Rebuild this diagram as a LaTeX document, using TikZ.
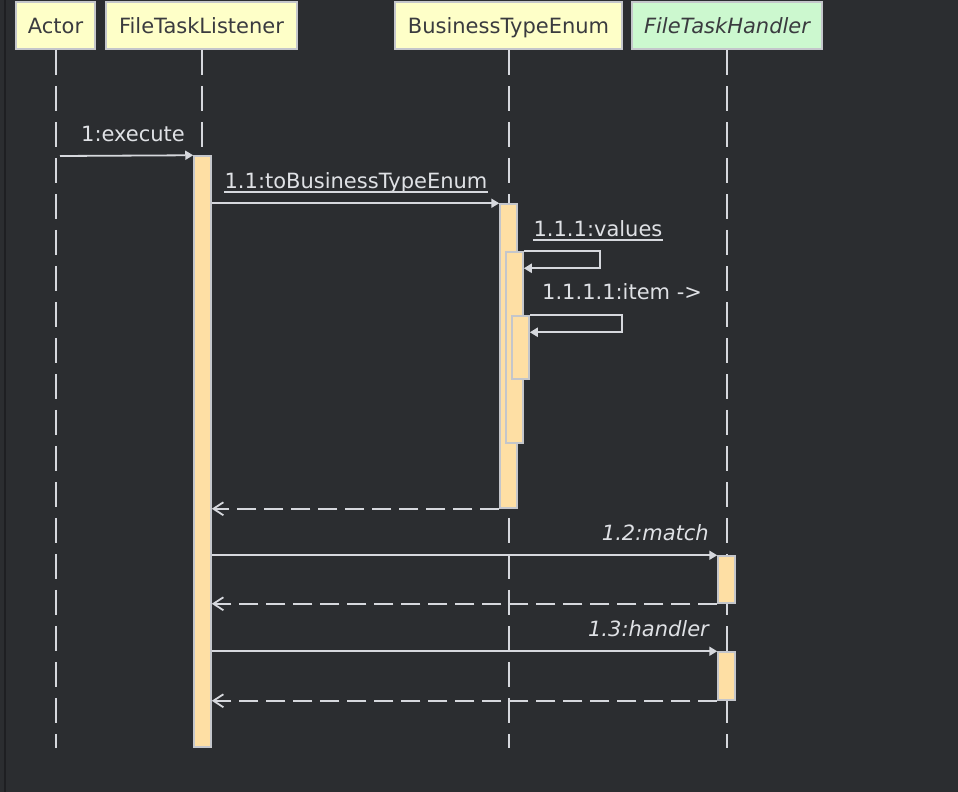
\documentclass[tikz,border=0pt]{standalone}
\usepackage{fontspec}
\setmainfont{DejaVu Sans}
\usetikzlibrary{arrows.meta, calc}

\definecolor{bgdark}{HTML}{2B2D30}
\definecolor{edgedark}{HTML}{1E1F22}
\definecolor{headyellow}{HTML}{FEFFC8}
\definecolor{headgreen}{HTML}{CCF8CF}
\definecolor{headborder}{HTML}{C4C6CB}
\definecolor{headtext}{HTML}{3A3B3F}
\definecolor{linegray}{HTML}{D6D8DD}
\definecolor{msgtext}{HTML}{DFE1E5}
\definecolor{actfill}{HTML}{FEDFA4}

\tikzset{
	head/.style={draw=headborder, line width=1.5pt, fill=headyellow, text=headtext, minimum height=47pt, inner sep=0pt, text height=18pt, text depth=1pt, font=\fontsize{21}{25}\selectfont},
	lifeline/.style={draw=linegray, line width=2pt, dash pattern=on 25pt off 11pt},
	activation/.style={draw=headborder, line width=1.5pt, fill=actfill, minimum width=17pt, inner sep=0pt},
	call/.style={draw=linegray, line width=1.8pt, -{Triangle[length=8pt,width=9pt]}},
	reply/.style={draw=linegray, line width=1.8pt, dash pattern=on 19pt off 8pt, -{Straight Barb[length=10pt,width=13pt]}},
	msg/.style={text=msgtext, inner sep=0pt, anchor=base, font=\fontsize{21}{25}\selectfont},
	underl/.style={draw=linegray, line width=1.8pt},
}

\begin{document}
	\begin{tikzpicture}[x=1pt, y=-1pt]
		\useasboundingbox (0,0) rectangle (958,792);
		\fill[bgdark] (0,0) rectangle (958,792);
		\draw[edgedark, line width=1.5pt] (5,0) -- (5,792);
		
		% Define participants
		\node[head, minimum width=79pt] (actor) at (55.5,25.5) {Actor};
		\node[head, minimum width=191pt] (ftl) at (201.5,25.5) {FileTaskListener};
		\node[head, minimum width=227pt] (bte) at (508.5,25.5) {BusinessTypeEnum};
		\node[head, minimum width=190pt, fill=headgreen, font=\fontsize{21}{25}\selectfont\itshape] (fth) at (727,25.5) {FileTaskHandler};
		\coordinate (bottom) at (0,748);
		
		% Draw lifelines
		\foreach \p in {actor, ftl, bte, fth}
			\draw[lifeline] (\p.south) -- (\p.south |- bottom);
		
		% Define activations
		\node[activation, minimum height=591pt] (act1) at (202.5,451.5) {};
		\node[activation, minimum height=304pt] (act2) at (508.5,356) {};
		\node[activation, minimum height=191pt] (act3) at (514.5,347.5) {};
		\node[activation, minimum height=63pt] (act4) at (520.5,347.5) {};
		\node[activation, minimum height=47pt] (act5) at (726.5,579.5) {};
		\node[activation, minimum height=48pt] (act6) at (726.5,676) {};
		
		% Draw messages
		\coordinate (s1) at (60,156);
		\draw[call] (s1) -- (act1.north west);
		\node[msg] (l1) at (133,141.5) {1:execute};
		
		\draw[call] (act2.north west -| act1.east) -- (act2.north west);
		\node[msg] (l2) at (356,188) {1.1:toBusinessTypeEnum};
		\draw[underl] ([yshift=-4pt]l2.base west) -- ([yshift=-4pt]l2.base east);
		
		\draw[call] (act3.north east) -- ++(76,0) -- ++(0,17) coordinate (v1) -- (v1 -| act3.east);
		\node[msg] (l3) at (598,236) {1.1.1:values};
		\draw[underl] ([yshift=-4pt]l3.base west) -- ([yshift=-4pt]l3.base east);
		
		\draw[call] (act4.north east) -- ++(92,0) -- ++(0,17) coordinate (i1) -- (i1 -| act4.east);
		\node[msg, anchor=base west] (l4) at (542,299) {1.1.1.1:item ->};
		
		\draw[reply] (act2.south west) -- (act2.south west -| act1.east);
		
		\draw[call] (act5.north west -| act1.east) -- (act5.north west);
		\node[msg, anchor=base east, font=\fontsize{21}{25}\selectfont\itshape] (l5) at (709,540) {1.2:match};
		\draw[reply] (act5.south west) -- (act5.south west -| act1.east);
		
		\draw[call] (act6.north west -| act1.east) -- (act6.north west);
		\node[msg, anchor=base east, font=\fontsize{21}{25}\selectfont\itshape] (l6) at (709,636) {1.3:handler};
		\draw[reply] (act6.south west) -- (act6.south west -| act1.east);
	\end{tikzpicture}
\end{document}
